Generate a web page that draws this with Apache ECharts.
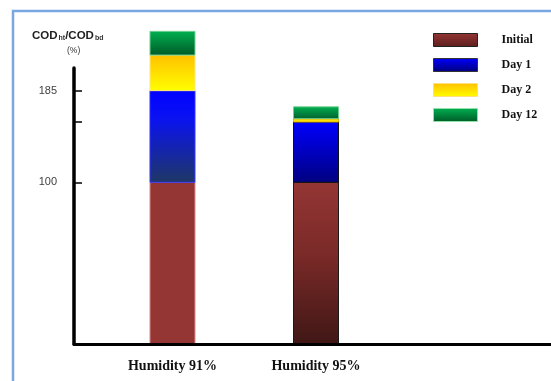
<!DOCTYPE html>
<html><head><meta charset="utf-8">
<script src="https://cdn.jsdelivr.net/npm/echarts@6/dist/echarts.min.js"></script>
<style>html,body{margin:0;padding:0;background:#fff}#c{width:551px;height:381px}</style>
</head><body><div id="c"></div>
<script>
// ---- data ----
const categories = ['Humidity 91%', 'Humidity 95%'];
const stages = ['Initial', 'Day 1', 'Day 2', 'Day 12'];
const initialValues = [100, 100];
const day1Values = [85, 56];
const day2Values = [33, 3];
const day12Values = [22, 11];
const yTickLabels = [100, 185];
const yTickMarks = [100, 156, 185];

// ---- layout / style ----
const Y_MIN = -50, Y_MAX = 206;           // axis range (bars start at axis bottom)
const X_MIN = -0.6864, X_MAX = 2.6376;    // horizontal range of the plot area
const BAR_W = 45;

const seriesValues = [initialValues, day1Values, day2Values, day12Values];
const cum = categories.map(() => 0);
const stackData = seriesValues.map((vals, si) => vals.map((v, ci) => {
  const start = si === 0 ? Y_MIN : cum[ci];
  const end = cum[ci] + v;
  cum[ci] = end;
  return [ci, start, end];
}));

function grad(stops) {
  return new echarts.graphic.LinearGradient(0, 0, 0, 1,
    stops.map((c) => ({ offset: c[0], color: c[1] })));
}
const barStyles = [
  [ // Humidity 91%
    { fill: '#943634', stroke: '#d98a8a' },
    { fill: grad([[0, '#0000ff'], [0.3, '#0a12f2'], [1, '#1f3864']]), stroke: '#3535ff' },
    { fill: grad([[0, '#ffc000'], [1, '#ffff00']]), stroke: '#ffe680' },
    { fill: grad([[0, '#00b050'], [1, '#005a28']]), stroke: '#70d090' }
  ],
  [ // Humidity 95%
    { fill: grad([[0, '#943634'], [0.45, '#7a2a28'], [1, '#3f1715']]), stroke: '#1a1a1a' },
    { fill: grad([[0, '#0000ff'], [1, '#000080']]), stroke: '#111111' },
    { fill: grad([[0, '#ffc000'], [1, '#ffff00']]), stroke: '#e0b000' },
    { fill: grad([[0, '#00b050'], [1, '#006030']]), stroke: '#70d090' }
  ]
];
const legendStyles = [
  { color: grad([[0, '#943634'], [1, '#5c1f1d']]), borderColor: '#222', borderWidth: 1 },
  { color: grad([[0, '#0000ff'], [1, '#00007a']]), borderColor: '#333', borderWidth: 1 },
  { color: grad([[0, '#ffc000'], [1, '#ffff00']]), borderColor: '#ffe080', borderWidth: 1 },
  { color: grad([[0, '#00b050'], [1, '#005a28']]), borderColor: '#90e0a8', borderWidth: 1 }
];

function makeRender(si) {
  return function (params, api) {
    const ci = api.value(0);
    const p0 = api.coord([ci, api.value(1)]);
    const p1 = api.coord([ci, api.value(2)]);
    const st = barStyles[ci][si];
    return {
      type: 'rect',
      shape: { x: p0[0] - BAR_W / 2, y: p1[1], width: BAR_W, height: p0[1] - p1[1] },
      style: { fill: st.fill, stroke: st.stroke, lineWidth: 1 }
    };
  };
}

const chart = echarts.init(document.getElementById('c'));
chart.setOption({
  animation: false,
  backgroundColor: '#ffffff',
  title: {
    text: '{a|COD}{s|ht}{a|/COD}{s|bd}',
    left: 27, top: 24,
    textStyle: {
      rich: {
        a: { fontSize: 11.5, fontWeight: 'bold', fontFamily: 'Liberation Sans', color: '#222', lineHeight: 13 },
        s: { fontSize: 7, fontWeight: 'bold', fontFamily: 'Liberation Sans', color: '#333', lineHeight: 13, verticalAlign: 'bottom', padding: [4, 0, 0, 1] }
      }
    }
  },
  graphic: [
    { type: 'rect', z: -10, silent: true, shape: { x: 13, y: 11, width: 600, height: 420 },
      style: { fill: 'none', stroke: '#7aa6e2', lineWidth: 2.5 } },
    { type: 'text', left: 67, top: 46, style: { text: '(%)', fontSize: 8.5, fontFamily: 'Liberation Sans', fill: '#333' } }
  ],
  legend: {
    orient: 'vertical', left: 428, top: 28,
    itemWidth: 44, itemHeight: 13, itemGap: 11,
    icon: 'rect',
    textStyle: { fontFamily: 'Liberation Serif', fontWeight: 'bold', fontSize: 12, color: '#111', padding: [0, 0, 3, 19] },
    data: stages.map((s, i) => ({ name: s, itemStyle: legendStyles[i] }))
  },
  grid: { left: 74, right: 0, top: 68, bottom: 37 },
  xAxis: {
    type: 'value', min: X_MIN, max: X_MAX, z: 5,
    axisLine: { show: true, onZero: false, lineStyle: { color: '#000', width: 3 } },
    axisTick: { show: false },
    splitLine: { show: false },
    axisLabel: {
      customValues: categories.map((c, i) => i),
      formatter: v => categories[Math.round(v)],
      margin: 15, fontFamily: 'Liberation Serif', fontWeight: 'bold', fontSize: 14, color: '#111'
    }
  },
  yAxis: {
    type: 'value', min: Y_MIN, max: Y_MAX, z: 5,
    axisLine: { show: true, onZero: false, lineStyle: { color: '#000', width: 3.5 } },
    axisTick: { show: true, inside: true, length: 8, customValues: yTickMarks, lineStyle: { color: '#000', width: 1.5 } },
    splitLine: { show: false },
    axisLabel: { customValues: yTickLabels, margin: 17, color: '#404040', fontSize: 11, fontFamily: 'Liberation Sans' }
  },
  series: stages.map((s, si) => ({
    name: s, type: 'custom', clip: false,
    itemStyle: legendStyles[si],
    renderItem: makeRender(si),
    encode: { x: 0, y: [1, 2] },
    data: stackData[si]
  }))
});
</script></body></html>
